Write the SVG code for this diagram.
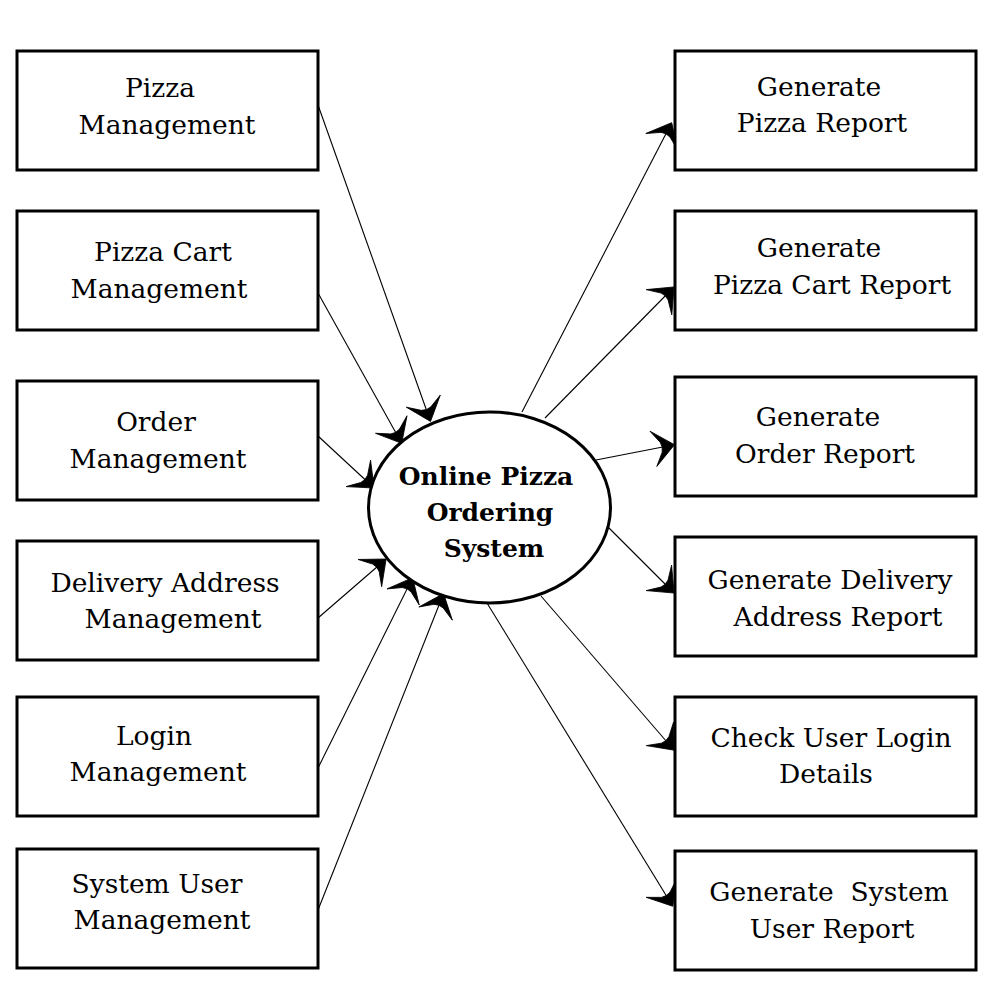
<svg xmlns="http://www.w3.org/2000/svg" width="1000" height="1000" viewBox="0 0 1000 1000">
<style>
.box{fill:#fff;stroke:#000;stroke-width:3}
.lbl{font-family:"DejaVu Serif","Liberation Serif",serif;font-size:26.5px;fill:#000;text-anchor:middle}
.ctr{font-family:"DejaVu Serif","Liberation Serif",serif;font-size:25px;font-weight:bold;fill:#000;text-anchor:middle}
.con{stroke:#000;stroke-width:1.1;fill:none;marker-end:url(#arr)}
</style>
<defs>
<marker id="arr" viewBox="-24 -22 26 44" refX="0" refY="0" markerWidth="26" markerHeight="44" markerUnits="userSpaceOnUse" orient="auto">
<path d="M1.5,0 L-20,-18 L-12,-5 L-11,0 L-12,5 L-20,18 Z" fill="#000" stroke="#000" stroke-width="0.8" stroke-linejoin="miter"/>
</marker>
</defs>
<rect width="1000" height="1000" fill="#fff"/>
<g id="connectors">
<line class="con" x1="318" y1="105" x2="430" y2="420"/>
<line class="con" x1="318" y1="293" x2="401" y2="442"/>
<line class="con" x1="318" y1="436" x2="373" y2="487"/>
<line class="con" x1="318" y1="618" x2="385" y2="560"/>
<line class="con" x1="318" y1="768" x2="412" y2="579"/>
<line class="con" x1="318" y1="910" x2="443" y2="595"/>
<line class="con" x1="522" y1="412" x2="671" y2="124"/>
<line class="con" x1="545" y1="418" x2="673" y2="288"/>
<line class="con" x1="596" y1="460" x2="673" y2="445"/>
<line class="con" x1="606" y1="525" x2="673" y2="592"/>
<line class="con" x1="541" y1="596" x2="673" y2="749"/>
<line class="con" x1="487" y1="603" x2="672" y2="905"/>
</g>
<g id="system">
<ellipse cx="489.5" cy="507.5" rx="121" ry="95.5" fill="#fff" stroke="#000" stroke-width="3"/>
<text class="ctr" x="486" y="485">Online Pizza</text>
<text class="ctr" x="490" y="521">Ordering</text>
<text class="ctr" x="494" y="557">System</text>
</g>
<g id="pizza-mgmt"><rect class="box" x="17" y="51" width="301" height="119"/>
<text class="lbl" x="160" y="97">Pizza</text><text class="lbl" x="167" y="134">Management</text></g>
<g id="cart-mgmt"><rect class="box" x="17" y="211" width="301" height="119"/>
<text class="lbl" x="163" y="261">Pizza Cart</text><text class="lbl" x="159" y="298">Management</text></g>
<g id="order-mgmt"><rect class="box" x="17" y="381" width="301" height="119"/>
<text class="lbl" x="156" y="431">Order</text><text class="lbl" x="158" y="468">Management</text></g>
<g id="address-mgmt"><rect class="box" x="17" y="541" width="301" height="119"/>
<text class="lbl" x="165" y="592">Delivery Address</text><text class="lbl" x="173" y="628">Management</text></g>
<g id="login-mgmt"><rect class="box" x="17" y="697" width="301" height="119"/>
<text class="lbl" x="154" y="745">Login</text><text class="lbl" x="158" y="781">Management</text></g>
<g id="user-mgmt"><rect class="box" x="17" y="849" width="301" height="119"/>
<text class="lbl" x="157" y="893">System User</text><text class="lbl" x="162" y="929">Management</text></g>
<g id="pizza-report"><rect class="box" x="675" y="51" width="301" height="119"/>
<text class="lbl" x="819" y="96">Generate</text><text class="lbl" x="822" y="132">Pizza Report</text></g>
<g id="cart-report"><rect class="box" x="675" y="211" width="301" height="119"/>
<text class="lbl" x="819" y="257">Generate</text><text class="lbl" x="832" y="294">Pizza Cart Report</text></g>
<g id="order-report"><rect class="box" x="675" y="377" width="301" height="119"/>
<text class="lbl" x="818" y="426">Generate</text><text class="lbl" x="825" y="463">Order Report</text></g>
<g id="address-report"><rect class="box" x="675" y="537" width="301" height="119"/>
<text class="lbl" x="830" y="589">Generate Delivery</text><text class="lbl" x="838" y="626">Address Report</text></g>
<g id="login-check"><rect class="box" x="675" y="697" width="301" height="119"/>
<text class="lbl" x="831" y="747">Check User Login</text><text class="lbl" x="826" y="783">Details</text></g>
<g id="user-report"><rect class="box" x="675" y="851" width="301" height="119"/>
<text class="lbl" x="829" y="901" xml:space="preserve">Generate  System</text><text class="lbl" x="832" y="938">User Report</text></g>
</svg>
